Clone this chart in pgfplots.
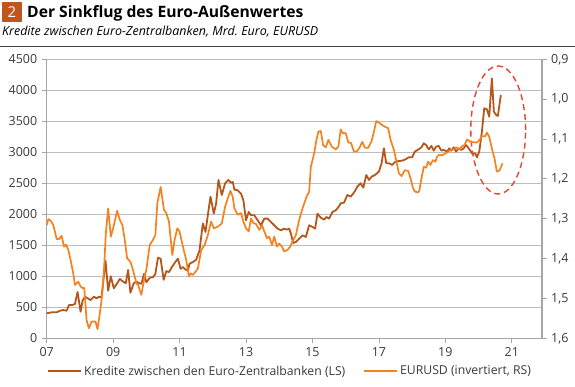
\documentclass[border=0pt]{standalone}
\usepackage{fontspec}
\setmainfont{Open Sans}
\usepackage{pgfplots}
\pgfplotsset{compat=1.18}
\definecolor{kred}{HTML}{B5561B}
\definecolor{eur}{HTML}{F5821F}
\definecolor{boxc}{HTML}{C0561E}
\definecolor{gridc}{HTML}{BDBDBD}
\definecolor{axc}{HTML}{A6A6A6}
\definecolor{txt}{HTML}{3A3A3A}
\definecolor{ell}{HTML}{E8452C}
\frenchspacing
\begin{document}
\begin{tikzpicture}[x=1bp,y=1bp]
\useasboundingbox (0,0) rectangle (575,386);
\fill[boxc] (2,364) rectangle (22,384);
\node[text=white, font=\fontsize{15}{15}\selectfont, inner sep=0pt] at (12,374) {2};
\node[anchor=base west, inner sep=0pt, font=\fontsize{15.7}{18}\selectfont\bfseries] at (27,368.5) {Der Sinkflug des Euro-Außenwertes};
\node[anchor=base west, inner sep=0pt, font=\fontsize{12.5}{15}\selectfont\itshape] at (2,350.5) {Kredite zwischen Euro-Zentralbanken, Mrd.\ Euro, EURUSD};
\draw[black!75, line width=0.8bp] (0,339.3) -- (575,339.3);

\begin{axis}[
  at={(46.7bp,47.7bp)}, anchor=south west,
  scale only axis, width=495bp, height=279bp,
  xmin=2007, xmax=2021.9, ymin=0, ymax=4500,
  axis x line*=bottom, axis y line*=left,
  axis line style={axc, line width=0.9bp},
  xtick={2007,2009,2011,2013,2015,2017,2019,2021},
  xticklabels={07,09,11,13,15,17,19,21},
  ytick={0,500,1000,1500,2000,2500,3000,3500,4000,4500},
  yticklabels={0,500,1000,1500,2000,2500,3000,3500,4000,4500},
  tick align=outside, major tick length=5bp,
  tick style={axc, line width=0.8bp},
  ymajorgrids, grid style={gridc, line width=0.8bp},
  ticklabel style={text=txt, font=\fontsize{12.5}{15}\selectfont},
  yticklabel style={xshift=-1bp},
  xticklabel style={yshift=-1bp},
  clip=false,
]
\addplot[kred, line width=1.8bp, line join=round] coordinates {
(2007.00,403)(2007.15,419)(2007.30,419)(2007.40,445)(2007.50,456)(2007.60,445)(2007.67,537)(2007.77,537)(2007.85,553)(2007.93,747)(2008.02,429)(2008.08,607)(2008.15,671)(2008.22,650)(2008.32,617)(2008.42,671)(2008.50,645)(2008.58,671)(2008.65,660)(2008.77,1252)(2008.85,768)(2008.93,1000)(2009.02,806)(2009.12,887)(2009.20,957)(2009.30,914)(2009.38,887)(2009.45,1101)(2009.52,736)(2009.62,887)(2009.70,914)(2009.78,890)(2009.85,878)(2009.93,1040)(2010.00,905)(2010.10,976)(2010.20,987)(2010.27,1040)(2010.35,1300)(2010.43,1284)(2010.52,943)(2010.60,1084)(2010.68,1068)(2010.77,1149)(2010.87,1230)(2010.95,1284)(2011.03,1122)(2011.10,1149)(2011.17,1111)(2011.25,1095)(2011.30,1203)(2011.40,1230)(2011.50,1268)(2011.60,1419)(2011.70,1851)(2011.78,1716)(2011.85,1986)(2011.93,2284)(2012.03,2013)(2012.10,2176)(2012.17,2554)(2012.27,2311)(2012.37,2500)(2012.47,2554)(2012.55,2510)(2012.60,2521)(2012.65,2398)(2012.75,2387)(2012.85,2333)(2012.92,2226)(2013.00,1903)(2013.08,2038)(2013.15,1984)(2013.25,1984)(2013.35,1903)(2013.45,1823)(2013.55,1930)(2013.65,1930)(2013.75,1876)(2013.85,1823)(2013.95,1769)(2014.05,1742)(2014.15,1769)(2014.23,1753)(2014.30,1769)(2014.35,1688)(2014.42,1538)(2014.50,1554)(2014.60,1608)(2014.70,1661)(2014.80,1634)(2014.90,1823)(2015.00,1796)(2015.08,1769)(2015.15,2011)(2015.25,1946)(2015.35,1914)(2015.42,1957)(2015.50,1930)(2015.60,2038)(2015.70,2065)(2015.80,2129)(2015.85,2177)(2015.95,2188)(2016.05,2312)(2016.15,2285)(2016.25,2350)(2016.35,2446)(2016.45,2500)(2016.53,2430)(2016.62,2634)(2016.70,2554)(2016.78,2607)(2016.88,2634)(2017.00,2688)(2017.08,2823)(2017.15,3064)(2017.22,2823)(2017.30,2823)(2017.40,2796)(2017.50,2849)(2017.60,2860)(2017.70,2865)(2017.80,2887)(2017.90,2919)(2018.00,2919)(2018.08,3010)(2018.20,3050)(2018.28,3080)(2018.35,3145)(2018.42,3118)(2018.50,3048)(2018.58,3102)(2018.65,3027)(2018.72,3091)(2018.80,3102)(2018.88,3027)(2018.95,3038)(2019.05,3011)(2019.12,3064)(2019.18,3027)(2019.25,3080)(2019.32,3011)(2019.40,3064)(2019.48,3038)(2019.55,3064)(2019.62,3118)(2019.68,3080)(2019.75,3027)(2019.82,2973)(2019.90,2984)(2019.95,2919)(2020.02,3011)(2020.10,3333)(2020.17,3710)(2020.25,3694)(2020.32,3575)(2020.40,4193)(2020.46,3656)(2020.53,3602)(2020.58,3586)(2020.67,3925)
};
\draw[ell, line width=1.4bp, dash pattern=on 6bp off 4bp] (axis cs:2020.59,3360) ellipse [x radius=0.825, y radius=1032];
\end{axis}

\begin{axis}[
  at={(46.7bp,47.7bp)}, anchor=south west,
  scale only axis, width=495bp, height=279bp,
  xmin=2007, xmax=2021.9, ymin=0.9, ymax=1.6, y dir=reverse,
  axis x line=none, axis y line*=right,
  axis line style={axc, line width=2bp},
  ytick={0.9,1.0,1.1,1.2,1.3,1.4,1.5,1.6},
  yticklabels={{0,9},{1,0},{1,1},{1,2},{1,3},{1,4},{1,5},{1,6}},
  tick align=outside, major tick length=5bp,
  tick style={axc, line width=0.8bp},
  ticklabel style={text=txt, font=\fontsize{12.5}{15}\selectfont},
  yticklabel style={xshift=1bp},
  legend style={draw=none, fill=none, at={(0.492,-0.118)}, anchor=center,
    legend columns=2, font=\fontsize{12.3}{14}\selectfont, text=txt,
    /tikz/every even column/.append style={column sep=16bp},
    inner sep=0pt},
  legend image code/.code={\draw[#1] (0bp,0bp) -- (33bp,0bp);},
  legend cell align=left,
]
\addlegendimage{kred, line width=1.8bp}
\addlegendentry{Kredite zwischen den Euro-Zentralbanken (LS)}
\addplot[eur, line width=1.7bp, line join=round] coordinates {
(2007.00,1.316)(2007.05,1.301)(2007.12,1.305)(2007.20,1.316)(2007.25,1.333)(2007.30,1.351)(2007.37,1.351)(2007.45,1.343)(2007.52,1.370)(2007.58,1.365)(2007.65,1.378)(2007.72,1.404)(2007.80,1.437)(2007.85,1.466)(2007.90,1.462)(2007.95,1.458)(2008.02,1.470)(2008.08,1.474)(2008.13,1.474)(2008.20,1.554)(2008.27,1.575)(2008.35,1.558)(2008.42,1.558)(2008.47,1.558)(2008.53,1.577)(2008.60,1.537)(2008.67,1.491)(2008.73,1.420)(2008.78,1.337)(2008.85,1.274)(2008.93,1.345)(2009.00,1.324)(2009.12,1.280)(2009.20,1.303)(2009.28,1.316)(2009.35,1.353)(2009.42,1.399)(2009.52,1.408)(2009.60,1.429)(2009.70,1.462)(2009.75,1.466)(2009.85,1.491)(2009.93,1.453)(2010.00,1.428)(2010.10,1.366)(2010.20,1.353)(2010.27,1.341)(2010.33,1.261)(2010.43,1.220)(2010.53,1.278)(2010.60,1.286)(2010.68,1.307)(2010.78,1.391)(2010.85,1.353)(2010.93,1.324)(2011.00,1.332)(2011.10,1.370)(2011.20,1.404)(2011.28,1.445)(2011.33,1.437)(2011.40,1.441)(2011.48,1.433)(2011.55,1.425)(2011.65,1.379)(2011.75,1.366)(2011.85,1.341)(2011.95,1.307)(2012.03,1.324)(2012.15,1.320)(2012.27,1.312)(2012.37,1.270)(2012.45,1.249)(2012.53,1.230)(2012.60,1.245)(2012.65,1.274)(2012.75,1.290)(2012.85,1.286)(2012.92,1.307)(2013.00,1.324)(2013.08,1.332)(2013.15,1.299)(2013.22,1.311)(2013.30,1.313)(2013.40,1.328)(2013.48,1.316)(2013.55,1.332)(2013.63,1.349)(2013.70,1.345)(2013.78,1.366)(2013.85,1.345)(2013.93,1.370)(2014.00,1.362)(2014.08,1.370)(2014.15,1.382)(2014.25,1.378)(2014.33,1.370)(2014.40,1.357)(2014.50,1.341)(2014.60,1.303)(2014.70,1.274)(2014.82,1.245)(2014.90,1.232)(2014.95,1.170)(2015.05,1.136)(2015.12,1.102)(2015.18,1.081)(2015.25,1.080)(2015.32,1.115)(2015.40,1.121)(2015.48,1.102)(2015.58,1.119)(2015.70,1.126)(2015.78,1.119)(2015.85,1.076)(2015.92,1.086)(2016.00,1.085)(2016.08,1.109)(2016.16,1.110)(2016.25,1.132)(2016.35,1.130)(2016.42,1.121)(2016.50,1.107)(2016.58,1.122)(2016.68,1.122)(2016.78,1.105)(2016.85,1.081)(2016.92,1.055)(2017.00,1.059)(2017.10,1.065)(2017.20,1.070)(2017.28,1.073)(2017.35,1.102)(2017.45,1.127)(2017.53,1.157)(2017.60,1.186)(2017.68,1.193)(2017.78,1.178)(2017.88,1.180)(2017.95,1.198)(2018.02,1.221)(2018.08,1.232)(2018.18,1.234)(2018.22,1.228)(2018.28,1.199)(2018.35,1.170)(2018.42,1.172)(2018.48,1.157)(2018.55,1.165)(2018.62,1.153)(2018.70,1.157)(2018.75,1.144)(2018.82,1.139)(2018.90,1.141)(2018.98,1.137)(2019.05,1.134)(2019.15,1.128)(2019.25,1.126)(2019.33,1.121)(2019.42,1.126)(2019.50,1.118)(2019.58,1.115)(2019.65,1.101)(2019.75,1.107)(2019.85,1.108)(2019.95,1.109)(2020.03,1.102)(2020.10,1.093)(2020.20,1.093)(2020.25,1.084)(2020.32,1.094)(2020.40,1.124)(2020.48,1.149)(2020.55,1.182)(2020.63,1.179)(2020.72,1.161)
};
\addlegendentry{EURUSD (invertiert, RS)}
\end{axis}
\end{tikzpicture}
\end{document}
